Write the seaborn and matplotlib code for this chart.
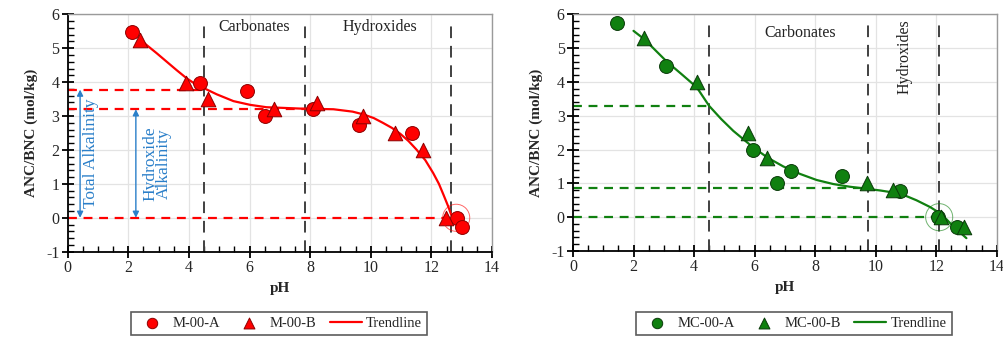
import matplotlib
matplotlib.use("Agg")
import matplotlib.pyplot as plt
import seaborn as sns
import numpy as np
import pandas as pd
from matplotlib.ticker import MultipleLocator

# ---------------- data ----------------
# Left panel (M-00)
m00a_ph = [2.12, 4.37, 5.93, 6.51, 8.08, 9.60, 11.35, 12.85, 13.00]
m00a_v = [5.49, 3.98, 3.75, 2.99, 3.20, 2.74, 2.50, 0.00, -0.26]
m00b_ph = [2.39, 3.90, 4.64, 6.81, 8.24, 9.73, 10.80, 11.73, 12.48]
m00b_v = [5.24, 3.98, 3.50, 3.21, 3.39, 2.99, 2.50, 1.99, 0.00]
m00_tr_ph = [2.40, 2.50, 2.94, 3.27, 3.60, 3.93, 4.20, 4.50, 4.92, 5.47, 6.02, 6.56, 7.67,
             8.77, 9.40, 9.75, 10.10, 10.40, 10.70, 10.97, 11.25, 11.50, 11.80, 12.06,
             12.25, 12.40, 12.55, 12.66, 12.75]
m00_tr_v = [5.25, 5.17, 4.85, 4.60, 4.35, 4.11, 3.95, 3.82, 3.64, 3.44, 3.33, 3.26, 3.22,
            3.20, 3.13, 3.05, 2.94, 2.80, 2.65, 2.48, 2.26, 2.02, 1.70, 1.32,
            1.00, 0.68, 0.35, 0.08, -0.02]
m00_hlines = [3.78, 3.20, 0.0]
m00_hline_end = [4.5, 7.85, 12.5]
m00_vlines = [4.5, 7.82, 12.65]

# Right panel (MC-00)
mc00a_ph = [1.46, 3.06, 5.96, 6.75, 7.20, 8.88, 10.80, 12.07, 12.70]
mc00a_v = [5.73, 4.48, 1.99, 1.00, 1.38, 1.23, 0.77, 0.00, -0.28]
mc00b_ph = [2.36, 4.09, 5.77, 6.40, 9.73, 10.56, 12.15, 12.93]
mc00b_v = [5.30, 4.00, 2.50, 1.75, 1.00, 0.80, 0.02, -0.30]
mc00_tr_ph = [2.00, 2.36, 3.10, 3.60, 4.09, 4.50, 4.90, 5.30, 5.96, 6.45, 6.95, 7.50, 8.05,
              8.60, 9.15, 9.70, 10.15, 10.58, 11.00, 11.35, 11.80, 12.12, 12.35, 12.57,
              12.80, 13.00]
mc00_tr_v = [5.51, 5.26, 4.60, 4.22, 3.84, 3.29, 2.90, 2.55, 2.06, 1.75, 1.50, 1.28, 1.10,
             0.98, 0.90, 0.84, 0.79, 0.73, 0.63, 0.50, 0.30, 0.12, -0.07, -0.28,
             -0.46, -0.62]
mc00_hlines = [3.28, 0.85, 0.0]
mc00_hline_end = [4.5, 9.75, 12.1]
mc00_vlines = [4.5, 9.75, 12.1]

# ---------------- style ----------------
sns.set_theme(style="white")
plt.rcParams['font.family'] = ['Liberation Serif', 'DejaVu Serif']
plt.rcParams['axes.unicode_minus'] = False

fig = plt.figure(figsize=(10.04, 3.37), dpi=100)
axL = fig.add_axes([0.0674, 0.2531, 0.4226, 0.7045])
axR = fig.add_axes([0.5707, 0.2552, 0.4220, 0.7024])

RED = "#ff0000"
RED_E = "#8b0000"
GREEN = "#108010"
GREEN_E = "#0a3a0a"
BLUE = "#2a7fc9"
VCOL = "#404040"


def setup_axes(ax):
    ax.set_xlim(0, 14)
    ax.set_ylim(-1, 6)
    ax.xaxis.set_major_locator(MultipleLocator(2))
    ax.xaxis.set_minor_locator(MultipleLocator(0.5))
    ax.yaxis.set_major_locator(MultipleLocator(1))
    ax.yaxis.set_minor_locator(MultipleLocator(0.2))
    ax.grid(True, which='major', color='#e3e3e3', linewidth=0.9, zorder=0)
    ax.set_axisbelow(True)
    for s in ['top', 'right']:
        ax.spines[s].set_color('#9a9a9a')
        ax.spines[s].set_linewidth(1.0)
    for s in ['left', 'bottom']:
        ax.spines[s].set_color('black')
        ax.spines[s].set_linewidth(1.3)
    ax.tick_params(which='major', direction='inout', length=8, width=1.3,
                   color='black', labelsize=11.5, pad=2)
    ax.tick_params(which='minor', direction='in', length=4, width=1.0, color='black')
    ax.tick_params(which='both', top=False, right=False, bottom=True, left=True)


def draw_panel(ax, a_ph, a_v, b_ph, b_v, t_ph, t_v, hl, hl_end, vl,
               col, ecol, labA, labB, circ):
    setup_axes(ax)
    for y, xe in zip(hl, hl_end):
        ax.plot([0, xe], [y, y], color=col, linestyle=(0, (4, 3)), linewidth=1.6, zorder=2)
    for x in vl:
        ax.plot([x, x], [-1, 5.85], color=VCOL, linestyle=(0, (6, 4)), linewidth=1.4, zorder=2)
    tr = pd.DataFrame({"pH": t_ph, "v": t_v})
    sns.lineplot(data=tr, x="pH", y="v", ax=ax, color=col, linewidth=1.6,
                 sort=False, label="Trendline", zorder=3)
    da = pd.DataFrame({"pH": a_ph, "v": a_v})
    db = pd.DataFrame({"pH": b_ph, "v": b_v})
    sns.scatterplot(data=da, x="pH", y="v", ax=ax, marker='o', s=100, color=col,
                    edgecolor=ecol, linewidth=0.7, label=labA, zorder=4)
    sns.scatterplot(data=db, x="pH", y="v", ax=ax, marker='^', s=110, color=col,
                    edgecolor=ecol, linewidth=0.7, label=labB, zorder=4)
    ax.scatter([circ], [0], s=380, facecolors='none', edgecolors=col,
               linewidths=0.7, alpha=0.6, zorder=5)
    ax.set_xlabel("pH", fontsize=11, fontweight='bold', labelpad=4)
    ax.set_ylabel("ANC/BNC (mol/kg)", fontsize=11, fontweight='bold', labelpad=6)
    h, l = ax.get_legend_handles_labels()
    order = [l.index(labA), l.index(labB), l.index("Trendline")]
    ax.get_legend().remove()
    return [h[i] for i in order], [l[i] for i in order]


hL, lL = draw_panel(axL, m00a_ph, m00a_v, m00b_ph, m00b_v, m00_tr_ph, m00_tr_v,
                    m00_hlines, m00_hline_end, m00_vlines, RED, RED_E,
                    "M-00-A", "M-00-B", 12.82)
hR, lR = draw_panel(axR, mc00a_ph, mc00a_v, mc00b_ph, mc00b_v, mc00_tr_ph, mc00_tr_v,
                    mc00_hlines, mc00_hline_end, mc00_vlines, GREEN, GREEN_E,
                    "MC-00-A", "MC-00-B", 12.1)

# region labels
axL.text(6.15, 5.62, "Carbonates", ha='center', va='center', fontsize=11.5, color='#222222')
axL.text(10.3, 5.62, "Hydroxides", ha='center', va='center', fontsize=11.5, color='#222222')
axR.text(7.52, 5.44, "Carbonates", ha='center', va='center', fontsize=11.5, color='#222222')
axR.text(10.97, 4.75, "Hydroxides", ha='center', va='center', fontsize=11.5,
         rotation=90, color='#222222')

# alkalinity arrows (left)
axL.annotate("", xy=(0.41, 3.78), xytext=(0.41, 0.0),
             arrowprops=dict(arrowstyle='<|-|>', color=BLUE, lw=1.0,
                             mutation_scale=9, shrinkA=0, shrinkB=0), zorder=3)
axL.annotate("", xy=(2.25, 3.2), xytext=(2.25, 0.0),
             arrowprops=dict(arrowstyle='<|-|>', color=BLUE, lw=1.0,
                             mutation_scale=9, shrinkA=0, shrinkB=0), zorder=3)
axL.text(0.78, 1.9, "Total Alkalinity", rotation=90, ha='center', va='center',
         fontsize=12.5, color=BLUE)
axL.text(2.95, 1.6, "Hydroxide\nAlkalinity", rotation=90, ha='center', va='center',
         fontsize=12.5, color=BLUE, linespacing=0.85)

# legends
legkw = dict(ncol=3, frameon=True, fontsize=10.5, handlelength=2.2,
             columnspacing=0.9, handletextpad=0.3, borderpad=0.35,
             borderaxespad=0.0, fancybox=False, loc='upper left', markerscale=0.75)
lg1 = fig.legend(hL, lL, bbox_to_anchor=(0.1305, 0.0745), **legkw)
lg2 = fig.legend(hR, lR, bbox_to_anchor=(0.6335, 0.0745), **legkw)
for lg in (lg1, lg2):
    lg.get_frame().set_edgecolor('#333333')
    lg.get_frame().set_linewidth(1.2)

fig.savefig("out.png", dpi=100)
